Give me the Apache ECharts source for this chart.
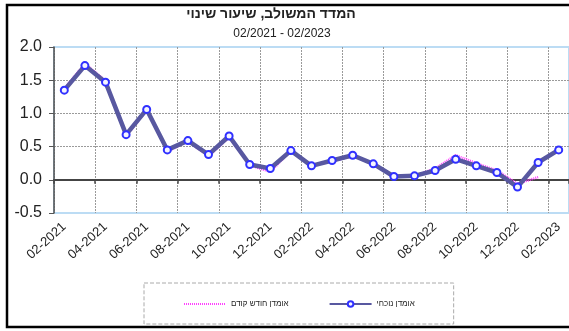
<!DOCTYPE html>
<html>
<head>
<meta charset="utf-8">
<script src="https://cdn.jsdelivr.net/npm/echarts@6/dist/echarts.min.js"></script>
<style>
  html, body { margin: 0; padding: 0; background: #fff; }
  #chart { width: 569px; height: 331px; }
</style>
</head>
<body>
<div id="chart"></div>
<script>
// Monthly categories, 02-2021 .. 02-2023
const months = [
  '02-2021','03-2021','04-2021','05-2021','06-2021','07-2021','08-2021','09-2021',
  '10-2021','11-2021','12-2021','01-2022','02-2022','03-2022','04-2022','05-2022',
  '06-2022','07-2022','08-2022','09-2022','10-2022','11-2022','12-2022','01-2023','02-2023'
];
// Current estimate (אומדן נוכחי), rate of change
const currentEstimate = [
  1.35, 1.72, 1.47, 0.68, 1.06, 0.45, 0.59, 0.38, 0.66, 0.23, 0.17, 0.44, 0.21,
  0.29, 0.37, 0.24, 0.05, 0.06, 0.14, 0.31, 0.21, 0.11, -0.11, 0.26, 0.45
];
// Previous month's estimate (אומדן חודש קודם)
const previousEstimate = [
  1.37, 1.75, 1.49, 0.66, 1.05, 0.43, 0.58, 0.36, 0.64, 0.22, 0.12, 0.44, 0.21,
  0.28, 0.36, 0.24, 0.04, 0.06, 0.17, 0.37, 0.25, 0.14, -0.06, 0.04, null
];
const yTicks = [-0.5, 0.0, 0.5, 1.0, 1.5, 2.0];

const seriesNames = ['אומדן חודש קודם', 'אומדן נוכחי'];
const titleText = 'המדד המשולב, שיעור שינוי';
const subtitleText = '02/2021 - 02/2023';

const chart = echarts.init(document.getElementById('chart'), null, { renderer: 'canvas' });

const font = 'Arial, "Liberation Sans", sans-serif';

chart.setOption({
  animation: false,
  textStyle: { fontFamily: font },
  grid: {
    left: 54, right: -3, top: 47, bottom: 118,
    show: true, borderColor: '#bcdcf4', borderWidth: 2, backgroundColor: 'transparent'
  },
  legend: {
    data: [
      { name: seriesNames[0], itemStyle: { opacity: 0 } },
      { name: seriesNames[1] }
    ],
    left: 144, top: 283,
    padding: [17, 39, 16, 39],
    itemGap: 40,
    itemWidth: 42, itemHeight: 7,
    borderColor: '#aaaaaa', borderWidth: 1, borderType: 'dashed',
    textStyle: { fontSize: 8, color: '#222', fontFamily: font }
  },
  xAxis: [
    {
      type: 'category',
      data: months,
      boundaryGap: true,
      axisLine: { show: false, onZero: false },
      axisTick: { show: false },
      axisLabel: {
        interval: 1, rotate: 42, margin: 12,
        fontSize: 13, color: '#222', fontFamily: font
      },
      splitLine: {
        show: true, interval: 1,
        lineStyle: { color: '#9a9a9a', width: 1, type: [2, 1] }
      }
    },
    {
      // zero baseline with its tick marks
      type: 'category',
      data: months,
      position: 'bottom',
      boundaryGap: true,
      axisLine: { show: true, onZero: true, lineStyle: { color: '#444', width: 2 } },
      axisTick: { show: true, interval: 1, length: 4, lineStyle: { color: '#444', width: 1.5 } },
      axisLabel: { show: false },
      splitLine: { show: false }
    }
  ],
  yAxis: {
    type: 'value',
    min: yTicks[0], max: yTicks[yTicks.length - 1], interval: 0.5,
    axisLine: { show: true, lineStyle: { color: '#555', width: 1.5 } },
    axisTick: { show: true, length: 5, lineStyle: { color: '#555' } },
    axisLabel: {
      margin: 12, fontSize: 16, color: '#222', fontFamily: font,
      formatter: v => v.toFixed(1)
    },
    splitLine: {
      show: true,
      lineStyle: {
        color: ['transparent', 'transparent', '#9a9a9a', '#9a9a9a', '#9a9a9a', 'transparent'],
        width: 1, type: [2, 1]
      }
    }
  },
  series: [
    {
      name: seriesNames[0],
      type: 'line',
      data: previousEstimate,
      showSymbol: false,
      symbol: 'none',
      z: 2,
      lineStyle: { color: '#ff40ff', width: 2.5, type: [1, 1] },
      itemStyle: { color: '#ff40ff' }
    },
    {
      name: seriesNames[1],
      type: 'line',
      data: currentEstimate,
      symbol: 'circle',
      symbolSize: 7,
      z: 3,
      lineStyle: { color: '#5858a0', width: 4.5 },
      itemStyle: { color: '#f4f4ff', borderColor: '#3030ff', borderWidth: 2 }
    }
  ],
  graphic: [
    {
      type: 'rect',
      shape: { x: 7, y: 5, width: 600, height: 322 },
      style: { fill: 'none', stroke: '#000', lineWidth: 2.5 },
      silent: true
    },
    {
      type: 'text', x: 271, y: 14,
      style: {
        text: titleText, fill: '#222', font: 'bold 14px ' + font,
        textAlign: 'center', textVerticalAlign: 'middle'
      }
    },
    {
      type: 'text', x: 282, y: 34,
      style: {
        text: subtitleText, fill: '#222', font: '12px ' + font,
        textAlign: 'center', textVerticalAlign: 'middle'
      }
    }
  ]
});
</script>
</body>
</html>
